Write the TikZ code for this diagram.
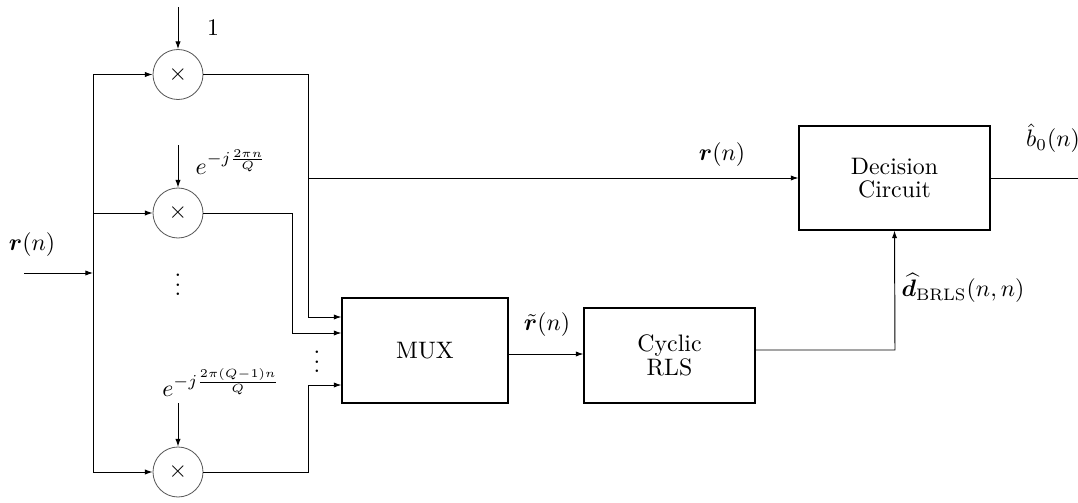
\documentclass[tikz,border=0pt]{standalone}
\usepackage{amsmath,amssymb,bm}
\usetikzlibrary{arrows.meta}
\begin{document}
\begin{tikzpicture}[x=0.42pt,y=-0.42pt,
  wire/.style={line width=0.4pt},
  arr/.style={wire,-{Latex[length=3.2pt,width=2.2pt]}},
  mult/.style={draw,circle,line width=0.35pt,minimum size=50*0.42pt,inner sep=0pt,draw=black!65},
  blockbox/.style={draw,line width=0.45pt,align=center,inner sep=0pt},
  lbl/.style={inner sep=0pt}]
\useasboundingbox (0,0) rectangle (1078,503);
% multipliers
\node[mult] (m1) at (178,74.5) {$\times$};
\node[mult] (m2) at (178,213) {$\times$};
\node[mult] (m3) at (178,472) {$\times$};
% blocks
\node[blockbox,minimum width=166*0.42pt,minimum height=105*0.42pt] (mux) at (425,350.5) {MUX};
\node[blockbox,minimum width=171*0.42pt,minimum height=95*0.42pt] (rls) at (669.5,355.5) {Cyclic\\[-2pt]RLS};
\node[blockbox,minimum width=191*0.42pt,minimum height=104*0.42pt] (dec) at (894.5,178) {Decision\\[-2.5pt]Circuit};
% coordinates
\coordinate (in) at (24,273);
\coordinate (bus) at (93,273);
\coordinate (bt) at (93,74.5);
\coordinate (bb) at (93,472);
\coordinate (s1) at (178,7);
\coordinate (s2) at (178,145);
\coordinate (s3) at (178,403);
\coordinate (o1) at (308,74.5);
\coordinate (o2) at (292,213);
\coordinate (o3) at (308,472);
\coordinate (br) at (308,178);
\coordinate (fb) at (895,350);
\coordinate (out) at (1078,178);
% input and bus
\draw[arr] (in) -- (bus);
\draw[wire] (bt) -- (bb);
\draw[arr] (bt) -- (m1.west);
\draw[arr] (93,213) -- (m2.west);
\draw[arr] (bb) -- (m3.west);
% scaling inputs
\draw[arr] (s1) -- (m1.north);
\draw[arr] (s2) -- (m2.north);
\draw[arr] (s3) -- (m3.north);
% outputs to MUX
\draw[arr] (m1.east) -- (o1) -- (308,317) -- (mux.west |- 0,317);
\draw[arr] (m2.east) -- (o2) -- (292,333) -- (mux.west |- 0,333);
\draw[arr] (m3.east) -- (o3) -- (308,385) -- (mux.west |- 0,385);
% branch to decision
\draw[arr] (br) -- (dec.west);
% MUX to RLS
\draw[arr] (mux.east |- 0,354) -- (rls.west |- 0,354);
% feedback
\draw[arr] (rls.east |- fb) -- (fb) -- (dec.south);
% output
\draw[wire] (dec.east) -- (out);
% labels
\node[lbl] (l1) at (213,28) {$1$};
\node[lbl] (l2) at (231,162) {$e^{-j\frac{2\pi n}{Q}}$};
\node[lbl] (l3) at (221,383) {$e^{-j\frac{2\pi(Q-1)n}{Q}}$};
\node[lbl] (lr) at (32,245) {$\bm{r}(n)$};
\node[lbl] (lr2) at (722,155) {$\bm{r}(n)$};
\node[lbl] (lrt) at (547,325) {$\tilde{\bm{r}}(n)$};
\node[lbl] (lb) at (1053,138) {$\hat{b}_0(n)$};
\node[lbl] (ld) at (963,288) {$\widehat{\bm{d}}_{\mathrm{BRLS}}(n,n)$};
\node[lbl] (d1) at (178,278) {$\vdots$};
\node[lbl] (d2) at (317,355) {$\vdots$};
\end{tikzpicture}
\end{document}
